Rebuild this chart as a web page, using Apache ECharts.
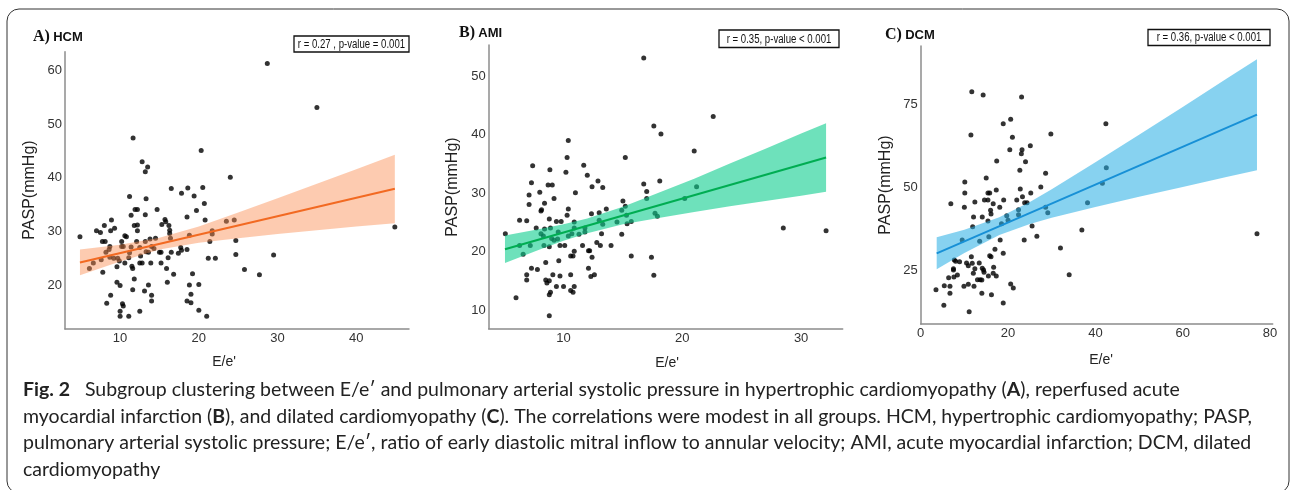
<!DOCTYPE html>
<html><head><meta charset="utf-8">
<script src="https://cdn.jsdelivr.net/npm/echarts@6/dist/echarts.min.js"></script>
<style>html,body{margin:0;padding:0;background:#fff}#c{width:1292px;height:490px}</style>
</head><body><div id="c"></div>
<script>
// ---------- DATA ----------
const hcmPoints = [[28.7,61.3],[35.0,53.1],[11.65,47.4],[20.3,45.1],[12.8,43.0],[13.5,42.0],[13.2,41.1],[24.0,40.1],[16.5,38.0],[18.6,38.1],[20.5,38.2],[17.8,37.1],[19.4,36.6],[11.2,36.5],[13.3,36.1],[20.7,35.2],[14.7,34.1],[11.9,34.1],[12.2,34.1],[19.7,33.9],[11.4,33.0],[13.2,33.1],[18.5,32.7],[8.9,32.1],[15.7,32.2],[15.8,31.8],[20.8,32.1],[23.5,31.9],[24.5,32.1],[8.0,31.1],[11.8,31.1],[12.2,31.2],[15.3,31.3],[16.2,31.1],[9.3,30.6],[44.9,30.8],[7.0,30.1],[8.8,30.1],[7.5,29.8],[12.2,30.1],[16.3,30.2],[21.7,30.1],[16.3,29.6],[21.7,29.5],[10.6,29.2],[10.8,29.0],[18.8,29.3],[4.9,29.0],[16.4,28.7],[13.8,28.6],[14.5,28.7],[7.75,28.1],[8.1,28.1],[10.2,28.1],[12.1,28.1],[13.2,28.1],[21.4,28.1],[24.7,28.3],[8.7,27.2],[10.2,27.2],[10.4,27.2],[11.4,27.1],[12.5,27.0],[14.0,27.2],[14.3,26.8],[17.7,27.0],[17.8,26.5],[18.5,26.6],[8.6,26.6],[8.2,26.1],[11.2,26.0],[13.3,26.2],[13.6,26.1],[15.0,26.1],[15.2,26.1],[16.5,26.1],[17.4,25.9],[8.7,25.2],[9.2,25.0],[9.7,25.0],[11.1,25.1],[12.6,25.4],[16.1,25.1],[21.2,25.0],[22.1,25.0],[24.7,25.7],[29.5,25.6],[7.6,24.7],[9.9,24.5],[6.6,24.1],[10.6,24.1],[12.5,24.1],[12.8,24.1],[13.9,24.1],[15.2,24.1],[9.6,23.4],[11.5,23.5],[6.1,23.1],[11.6,23.1],[15.9,23.1],[7.8,22.4],[25.8,22.9],[16.8,22.0],[19.2,22.1],[27.7,21.9],[11.8,21.1],[9.6,20.5],[10.0,19.9],[13.6,20.0],[16.0,20.5],[18.8,20.0],[20.0,20.1],[11.6,19.1],[13.1,18.9],[8.8,18.1],[14.0,18.1],[19.0,18.3],[14.0,17.0],[18.5,17.0],[8.3,16.6],[19.0,16.7],[10.3,16.5],[10.4,16.1],[10.0,15.1],[12.5,15.1],[20.0,15.3],[10.0,14.2],[11.1,14.2],[21.0,14.2]];
const hcmLine = [[4.9,24.2],[44.9,37.95]];
const hcmBandX = [4.9,10,15,20,25,30,35,40,44.9];
const hcmBandLo = [21.8,24.4,26.6,27.9,28.7,29.5,30.2,30.9,31.5];
const hcmBandHi = [26.6,27.5,28.8,30.9,33.5,36.2,38.9,41.6,44.3];

const amiPoints = [[16.75,53.1],[22.6,43.1],[17.6,41.5],[18.2,40.1],[10.4,39.0],[21.0,37.2],[10.3,36.1],[15.2,36.1],[7.4,34.7],[11.7,34.8],[8.85,34.0],[10.2,33.6],[12.0,33.1],[7.3,31.8],[12.9,32.1],[18.1,32.1],[8.7,31.4],[9.05,31.4],[16.75,31.6],[12.4,31.1],[13.3,31.0],[21.2,31.1],[8.0,30.2],[11.0,30.1],[17.0,30.3],[7.1,29.7],[9.2,29.1],[17.0,29.1],[20.2,29.1],[15.0,28.7],[8.4,28.3],[7.1,28.1],[15.2,27.8],[10.4,27.3],[8.15,27.2],[13.6,27.3],[14.9,27.1],[8.1,27.0],[10.3,26.25],[12.35,26.5],[13.0,26.7],[17.7,26.6],[15.3,26.25],[17.9,26.1],[8.8,25.6],[6.3,25.4],[6.9,25.3],[13.0,25.4],[9.4,25.2],[9.8,25.2],[10.9,25.1],[14.5,25.1],[15.7,25.2],[13.3,24.7],[15.35,24.8],[28.5,24.1],[7.7,24.1],[8.4,23.9],[8.9,24.1],[10.9,24.1],[11.8,24.1],[32.1,23.6],[9.55,23.4],[11.8,23.4],[5.1,23.1],[8.1,23.1],[10.7,23.1],[13.2,23.1],[14.9,23.0],[8.3,22.7],[10.4,22.7],[11.3,23.0],[9.0,22.3],[9.5,22.2],[9.2,22.0],[6.3,21.1],[7.2,21.1],[8.35,21.1],[9.7,21.1],[10.1,21.1],[11.6,21.1],[13.1,21.1],[14.0,21.1],[8.8,20.9],[12.8,21.6],[10.9,20.1],[12.1,20.2],[12.2,20.2],[6.6,19.6],[10.6,19.3],[10.8,19.3],[12.4,19.1],[15.7,19.3],[17.4,19.1],[9.6,18.5],[8.5,18.2],[7.3,17.2],[7.8,17.0],[12.1,17.2],[6.9,16.1],[9.1,16.1],[9.7,15.9],[10.6,16.1],[12.3,15.8],[12.6,16.1],[17.6,16.0],[6.9,15.2],[8.5,15.2],[8.8,15.1],[8.6,14.7],[9.4,14.1],[10.0,14.1],[10.9,14.1],[10.6,13.4],[10.8,13.1],[8.9,13.1],[8.8,12.7],[6.0,12.2],[8.8,9.1]];
const amiLine = [[5.07,20.45],[32.1,36.1]];
const amiBandX = [5.07,8,10,12,15,18,21,24,27,30,32.1];
const amiBandLo = [18.1,20.4,21.9,23.2,24.7,25.8,26.8,27.8,28.7,29.6,30.25];
const amiBandHi = [22.8,23.9,24.7,25.7,27.7,30.1,32.5,35.1,37.6,40.2,41.95];

const dcmPoints = [[11.7,78.7],[14.3,77.7],[23.1,77.1],[20.6,70.4],[18.9,69.1],[42.4,69.1],[11.5,65.7],[29.8,66.0],[21.0,65.0],[25.1,62.5],[20.4,61.3],[23.2,61.3],[23.05,60.1],[17.4,57.9],[24.0,57.7],[42.5,55.9],[22.7,55.1],[28.6,54.2],[15.0,52.8],[10.1,51.6],[41.6,51.2],[27.5,50.1],[22.8,49.5],[17.3,49.2],[10.1,48.3],[15.4,48.3],[15.8,48.3],[25.2,48.3],[23.3,47.2],[12.4,45.6],[14.6,46.2],[15.4,46.2],[19.0,46.2],[22.0,46.2],[6.9,45.1],[23.8,45.4],[24.35,45.4],[38.2,45.4],[16.6,45.1],[10.0,44.0],[18.1,44.0],[28.6,44.0],[22.4,43.3],[16.0,43.1],[16.1,42.0],[29.1,42.4],[22.4,41.8],[19.7,41.5],[12.1,41.1],[14.1,41.1],[20.0,40.1],[15.4,39.9],[11.9,38.2],[18.5,39.1],[25.5,38.4],[36.9,37.2],[77.0,36.1],[15.6,35.2],[26.6,35.3],[9.5,34.2],[13.5,33.8],[18.2,34.2],[23.7,34.2],[32.0,31.8],[17.0,31.4],[18.9,30.2],[11.6,29.2],[15.8,29.5],[16.1,29.2],[7.7,28.2],[8.0,27.8],[8.9,27.7],[10.5,27.3],[10.9,26.5],[11.8,27.2],[13.4,27.3],[7.5,25.6],[7.5,25.2],[12.4,25.6],[14.1,25.7],[14.4,25.2],[16.7,26.0],[12.05,24.2],[14.5,24.5],[16.6,24.2],[8.4,23.7],[34.0,23.8],[6.4,22.9],[7.6,23.1],[15.5,23.4],[17.3,23.4],[13.0,22.3],[13.6,22.3],[14.0,22.2],[5.4,20.5],[6.7,20.3],[9.9,20.3],[10.9,20.9],[12.2,20.3],[20.6,21.0],[21.2,19.8],[3.5,19.3],[6.7,18.2],[14.0,18.2],[16.2,17.8],[18.9,15.3],[5.3,14.6],[11.1,12.7]];
const dcmLine = [[3.66,30.2],[77.0,71.8]];
const dcmBandX = [3.66,10,18,25,30,40,50,60,70,77];
const dcmBandLo = [25.4,30.3,35.7,39.0,40.9,44.1,47.2,50.1,53.1,55.1];
const dcmBandHi = [35.0,37.3,41.0,45.6,49.4,57.5,65.8,74.1,82.6,88.4];

const hcmXTicks = [10,20,30,40];
const hcmYTicks = [20,30,40,50,60];
const amiXTicks = [10,20,30];
const amiYTicks = [10,20,30,40,50];
const dcmXTicks = [0,20,40,60,80];
const dcmYTicks = [25,50,75];

const panelTitles = [['A)','HCM'],['B)','AMI'],['C)','DCM']];
const statLabels = ['r = 0.27 , p-value = 0.001','r = 0.35, p-value < 0.001','r = 0.36, p-value < 0.001'];
const xTitle = "E/e'";
const yTitle = 'PASP(mmHg)';
const captionLines = [
  '{b|Fig. 2}   Subgroup clustering between E/e\u2032 and pulmonary arterial systolic pressure in hypertrophic cardiomyopathy ({b|A}), reperfused acute',
  'myocardial infarction ({b|B}), and dilated cardiomyopathy ({b|C}). The correlations were modest in all groups. HCM, hypertrophic cardiomyopathy; PASP,',
  'pulmonary arterial systolic pressure; E/e\u2032, ratio of early diastolic mitral inflow to annular velocity; AMI, acute myocardial infarction; DCM, dilated',
  'cardiomyopathy'
];

// ---------- CHART ----------
const chart = echarts.init(document.getElementById('c'), null, {renderer:'canvas'});
const SANS = 'Liberation Sans, Arial, sans-serif';
const CAP = 'Lato, Open Sans, sans-serif';
const axisLineStyle = {color:'#8c8c8c', width:1.5};

function xAx(idx, min, max, ticks){
  return {type:'value', gridIndex:idx, min, max, splitLine:{show:false}, axisTick:{show:false},
    axisLine:{show:true, lineStyle:axisLineStyle},
    axisLabel:{customValues:ticks, color:'#333', fontSize:13, fontFamily:SANS, margin:3}};
}
function yAx(idx, min, max, ticks){
  return {type:'value', gridIndex:idx, min, max, splitLine:{show:false}, axisTick:{show:false},
    axisLine:{show:true, lineStyle:axisLineStyle},
    axisLabel:{customValues:ticks, color:'#333', fontSize:13, fontFamily:SANS, margin:3}};
}
function scatter(idx, pts){
  return {type:'scatter', xAxisIndex:idx, yAxisIndex:idx, data:pts, symbolSize:5,
    itemStyle:{color:'#000'}, z:2, silent:true};
}
function band(idx, xs, lo, hi, color, op){
  return {type:'custom', xAxisIndex:idx, yAxisIndex:idx, data:[[xs[0], lo[0]]], z:3, silent:true,
    renderItem:function(params, api){
      const pts=[];
      for(let i=0;i<xs.length;i++) pts.push(api.coord([xs[i], hi[i]]));
      for(let i=xs.length-1;i>=0;i--) pts.push(api.coord([xs[i], lo[i]]));
      return {type:'polygon', shape:{points:pts}, style:{fill:color, opacity:op}};
    }};
}
function regLine(idx, pts, color){
  return {type:'line', xAxisIndex:idx, yAxisIndex:idx, data:pts, showSymbol:false, z:4, silent:true,
    lineStyle:{color, width:2}};
}

const graphics = [
  {type:'rect', shape:{x:7, y:9, width:1282, height:484, r:12}, style:{fill:'none', stroke:'#333', lineWidth:1}, z:0}
];
const titlePos = [[33,37],[459,33],[885,35]];
panelTitles.forEach((t,i)=>{
  graphics.push({type:'text', x:titlePos[i][0], y:titlePos[i][1], style:{
    text:'{s|'+t[0]+'} {h|'+t[1]+'}', verticalAlign:'middle',
    rich:{s:{fontFamily:'Liberation Serif, Times New Roman, serif', fontWeight:'bold', fontSize:16, fill:'#111'},
          h:{fontFamily:SANS, fontWeight:'bold', fontSize:13, fill:'#111'}}}});
});
const boxes = [[294,36,115,16],[719,30,120,17.5],[1148,29.5,122,16]];
statLabels.forEach((s,i)=>{
  const b = boxes[i];
  graphics.push({type:'rect', shape:{x:b[0], y:b[1], width:b[2], height:b[3]}, style:{fill:'#fff', stroke:'#111', lineWidth:1.3}, z:5});
  graphics.push({type:'group', x:b[0]+b[2]/2, y:b[1]+b[3]/2+0.5, scaleX:0.8, z:6, children:[
    {type:'text', x:0, y:0, z:6, style:{text:s, align:'center', verticalAlign:'middle', fontFamily:SANS, fontSize:12, fill:'#111'}}
  ]});
});
const xTitlePos = [[224,362],[667,363],[1101,360]];
xTitlePos.forEach(p=>graphics.push({type:'text', x:p[0], y:p[1], style:{text:xTitle, align:'center', verticalAlign:'middle', fontFamily:SANS, fontSize:14, fill:'#222'}}));
const yTitlePos = [[30,190],[453,187],[886,185]];
yTitlePos.forEach(p=>graphics.push({type:'text', x:p[0], y:p[1], rotation:Math.PI/2, style:{text:yTitle, align:'center', verticalAlign:'middle', fontFamily:SANS, fontSize:16, fill:'#222'}}));
const capY = [390, 416.5, 443, 469.5];
captionLines.forEach((l,i)=>graphics.push({type:'text', x:23, y:capY[i], style:{text:l, verticalAlign:'middle',
  fontFamily:CAP, fontSize:19.5, fill:'#222',
  rich:{b:{fontWeight:'bold', fontFamily:CAP, fontSize:19.5, fill:'#222'}}}}));

chart.setOption({
  animation:false,
  backgroundColor:'#fff',
  grid:[
    {left:65, top:51.7, width:344, height:277.3},
    {left:488.7, top:45, width:354, height:283.7},
    {left:920.7, top:46, width:352, height:278}
  ],
  xAxis:[xAx(0,3,46.7,hcmXTicks), xAx(1,3.7,33.5,amiXTicks), xAx(2,0,80.6,dcmXTicks)],
  yAxis:[yAx(0,11.8,63.5,hcmYTicks), yAx(1,6.9,55.3,amiYTicks), yAx(2,9,92.4,dcmYTicks)],
  series:[
    scatter(0,hcmPoints), band(0,hcmBandX,hcmBandLo,hcmBandHi,'rgb(250,140,80)',0.45), regLine(0,hcmLine,'#f26a22'),
    scatter(1,amiPoints), band(1,amiBandX,amiBandLo,amiBandHi,'rgb(13,205,142)',0.6), regLine(1,amiLine,'#00ad52'),
    scatter(2,dcmPoints), band(2,dcmBandX,dcmBandLo,dcmBandHi,'rgb(37,173,228)',0.55), regLine(2,dcmLine,'#1790d6')
  ],
  graphic:graphics
});
</script></body></html>
